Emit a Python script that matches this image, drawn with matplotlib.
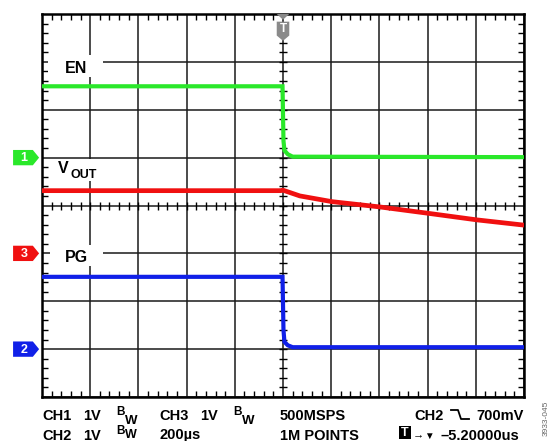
import matplotlib
matplotlib.use("Agg")
import matplotlib.pyplot as plt
from matplotlib.patches import Polygon, Rectangle
from matplotlib.lines import Line2D
import numpy as np

# ---- data (in scope divisions) ----
en_t = [0, 4.99, 5.01, 5.03, 5.10, 5.20, 10]
en_v = [6.49, 6.49, 5.35, 5.15, 5.07, 5.02, 5.01]

vout_t = [0, 4.95, 5.00, 5.35, 6.02, 7.01, 7.99, 9.02, 10]
vout_v = [4.31, 4.31, 4.32, 4.20, 4.08, 3.97, 3.84, 3.70, 3.59]

pg_t = [0, 4.99, 5.01, 5.03, 5.10, 5.20, 10]
pg_v = [2.51, 2.51, 1.40, 1.15, 1.08, 1.04, 1.04]

ch_names = ["1", "2", "3"]
ch_levels = [5.0, 1.0, 3.0]
ch_colors = ["#2ae82a", "#1020e8", "#f01010"]
trigger_pos = 5.0

W, H = 550, 441
plt.rcParams['font.family'] = ['Liberation Sans', 'DejaVu Sans']
fig = plt.figure(figsize=(W / 100, H / 100), dpi=100)
ax = fig.add_axes([42 / W, 44 / H, 482 / W, 383 / H])
ax.set_xlim(0, 10)
ax.set_ylim(0, 8)
ax.set_xticks(np.arange(0, 11))
ax.set_yticks(np.arange(0, 9))
ax.set_xticks(np.arange(0, 10.01, 0.2), minor=True)
ax.set_yticks(np.arange(0, 8.01, 0.2), minor=True)
ax.tick_params(which='major', length=0, labelbottom=False, labelleft=False)
ax.tick_params(which='minor', direction='in', length=4, width=1, top=True, right=True,
               bottom=True, left=True, color='black')
ax.grid(True, which='major', color='#1a1a1a', lw=1.1)
ax.set_axisbelow(True)
for s in ax.spines.values():
    s.set_linewidth(1.8)

# center cross ticks
mx = np.arange(0, 10.01, 0.2)
my = np.arange(0, 8.01, 0.2)
ax.plot(mx, np.full_like(mx, 4.0), ls='', marker='|', ms=6, mew=1, color='black', zorder=2)
ax.plot(np.full_like(my, trigger_pos), my, ls='', marker='_', ms=6, mew=1, color='black', zorder=2)

# label boxes (white) breaking the grid
def px2d(x, y):
    return (x - 42) / 48.2, (397 - y) / 47.875

def whitebox(x0, y0, x1, y1):
    a = px2d(x0, y1)
    b = px2d(x1, y0)
    ax.add_patch(Rectangle(a, b[0] - a[0], b[1] - a[1], facecolor='white',
                           edgecolor='none', zorder=1.5))

whitebox(48, 55, 103, 77)
whitebox(52, 159, 100, 181)
whitebox(50, 245, 103, 266)

# traces
ax.plot(en_t, en_v, color=ch_colors[0], lw=3, zorder=3, solid_joinstyle='miter')
ax.plot(vout_t, vout_v, color=ch_colors[2], lw=3.4, zorder=3)
ax.plot(pg_t, pg_v, color=ch_colors[1], lw=3, zorder=3, solid_joinstyle='miter')

# channel markers
for name, lev, col in zip(ch_names, ch_levels, ch_colors):
    hh = 0.16
    pts = [(-0.60, lev - hh), (-0.19, lev - hh), (-0.06, lev), (-0.19, lev + hh), (-0.60, lev + hh)]
    ax.add_patch(Polygon(pts, closed=True, facecolor=col, edgecolor='none', clip_on=False, zorder=5))
    ax.text(-0.37, lev - 0.01, name, color='white', fontsize=9, fontweight='bold',
            ha='center', va='center', clip_on=False, zorder=6)

# trigger marker
tg = '#8a8a8a'
ax.add_patch(Polygon([(trigger_pos - 0.13, 8.0), (trigger_pos + 0.13, 8.0), (trigger_pos, 7.88)],
                     closed=True, facecolor=tg, edgecolor='none', zorder=5, clip_on=False))
ax.add_patch(Polygon([(trigger_pos - 0.13, 7.84), (trigger_pos + 0.13, 7.84), (trigger_pos + 0.13, 7.55),
                      (trigger_pos, 7.44), (trigger_pos - 0.13, 7.55)],
                     closed=True, facecolor=tg, edgecolor='none', zorder=5, clip_on=False))
ax.text(trigger_pos, 7.68, 'T', color='white', fontsize=8.5, fontweight='bold',
        ha='center', va='center', zorder=6)

# trace labels
def ftxt(x, y, s, size=10.5, **kw):
    fig.text(x / W, 1 - y / H, s, fontsize=size, fontweight='bold', va='baseline', **kw)

ftxt(65, 73, 'EN', size=11.5)
ftxt(58, 173, 'V', size=11.5)
ftxt(70.5, 178, 'OUT', size=9)
ftxt(65, 262, 'PG', size=11.5)

# bottom info
r1, r2 = 420, 439.5
ftxt(42, r1, 'CH1')
ftxt(83, r1, '1V')
ftxt(116, r1 - 5, 'B', size=8.5)
ftxt(125, r1 + 4, 'W', size=9.5)
ftxt(159, r1, 'CH3')
ftxt(200, r1, '1V')
ftxt(233, r1 - 5, 'B', size=8.5)
ftxt(242, r1 + 4, 'W', size=9.5)
ftxt(280, r1, '500MSPS')
ftxt(414, r1, 'CH2')
ftxt(524, r1, '700mV', ha='right')

ftxt(42, r2, 'CH2')
ftxt(83, r2, '1V')
ftxt(116, r2 - 5, 'B', size=8.5)
ftxt(125, r2 - 1, 'W', size=9)
ftxt(159, r2, '200µs')
ftxt(280, r2, '1M POINTS')
ftxt(519, r2, '–5.20000us', ha='right')

# falling-edge symbol
def fl(xs, ys):
    fig.add_artist(Line2D([x / W for x in xs], [1 - y / H for y in ys], color='black', lw=1.3))

fl([451, 458, 461, 469], [410, 410, 419, 419])

# trigger-position box in info row
fig.add_artist(Rectangle((399 / W, 1 - 439 / H), 12 / W, 13 / H, transform=fig.transFigure,
                         facecolor='black', edgecolor='none'))
fig.text(405 / W, 1 - 432.5 / H, 'T', color='white', fontsize=9, fontweight='bold',
         ha='center', va='center')
ftxt(413, r2 - 2, '→', size=8)
ftxt(424, r2 - 1, '▼', size=7)

# side code
fig.text(546 / W, 1 - 418 / H, '3933-045', rotation=90, fontsize=6, color='#666666',
         ha='center', va='center')

fig.savefig('out.png', dpi=100)
